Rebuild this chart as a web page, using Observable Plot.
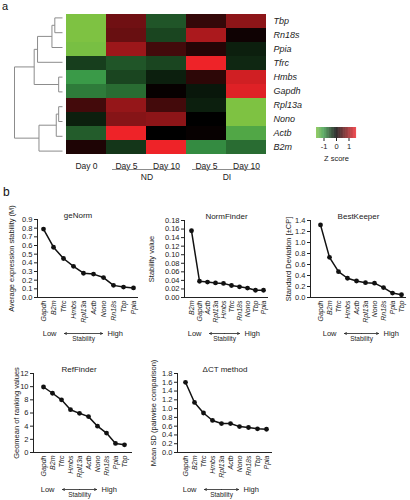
<!DOCTYPE html>
<html><head><meta charset="utf-8">
<script src="https://cdn.jsdelivr.net/npm/d3@7"></script>
<script src="https://cdn.jsdelivr.net/npm/@observablehq/plot@0.6"></script>
<style>
body{margin:0;background:#fff;}
#root{position:relative;width:410px;height:500px;overflow:hidden;font-family:"Liberation Sans",Arial,sans-serif;}
#root svg{position:absolute;overflow:visible;}
.panel{position:absolute;font-family:"Liberation Sans",Arial,sans-serif;color:#111;line-height:1;}
.ital g[aria-label="x-axis tick label"] text{font-style:italic;}
.heat g[aria-label="y-axis tick label"] text{font-style:italic;}
</style></head><body><div id="root"></div>
<script>
// ---------- Heatmap data (z scores, rows in gene order) ----------
const genes = ["Tbp","Rn18s","Ppia","Tfrc","Hmbs","Gapdh","Rpl13a","Nono","Actb","B2m"];
const conditions = ["Day 0","ND Day 5","ND Day 10","DI Day 5","DI Day 10"];
const conditionLabels = ["Day 0","Day 5","Day 10","Day 5","Day 10"];
const zDay0 = [-1.6,-1.6,-1.55,-0.4,-1.0,-0.8,0.45,-0.2,-0.6,0.2];
const zND5  = [0.75,0.7,1.05,-0.55,-0.45,-0.7,1.0,0.9,1.6,-0.35];
const zND10 = [-0.55,-0.45,0.45,-0.45,-0.2,0.05,0.45,0.95,0.0,1.6];
const zDI5  = [0.35,1.15,0.25,1.6,0.3,-0.15,-0.2,0.0,0.05,-0.9];
const zDI10 = [0.95,0.1,-0.2,-0.25,1.4,1.5,-1.6,-1.6,-1.2,-0.7];
const groups = ["ND","DI"];
const groupStart = ["ND Day 5","DI Day 5"];
const groupEnd = ["ND Day 10","DI Day 10"];
const legendTicks = [-1,0,1];

// ---------- Dendrogram merges (distance, root = 1) ----------
const mergeA = ["Tbp","n0","n1","Hmbs","n2","Rpl13a","n5","n6","n4"];
const mergeB = ["Rn18s","Ppia","Tfrc","Gapdh","n3","Nono","Actb","B2m","n7"];
const mergeHeight = [0.16,0.22,0.52,0.08,0.59,0.08,0.13,0.49,1.0];

// ---------- Panel b data ----------
const geNormGenes = ["Gapdh","B2m","Tfrc","Hmbs","Rpl13a","Actb","Nono","Rn18s","Tbp","Ppia"];
const geNormValues = [0.79,0.58,0.45,0.36,0.28,0.27,0.23,0.14,0.12,0.11];
const geNormTicks = [0,0.1,0.2,0.3,0.4,0.5,0.6,0.7,0.8,0.9];

const normFinderGenes = ["B2m","Gapdh","Actb","Rpl13a","Hmbs","Tfrc","Rn18s","Nono","Tbp","Ppia"];
const normFinderValues = [0.156,0.038,0.036,0.034,0.033,0.028,0.025,0.022,0.017,0.017];
const normFinderTicks = [0,0.02,0.04,0.06,0.08,0.10,0.12,0.14,0.16,0.18];

const bestKeeperGenes = ["Gapdh","B2m","Tfrc","Hmbs","Actb","Rpl13a","Nono","Rn18s","Ppia","Tbp"];
const bestKeeperValues = [1.32,0.73,0.47,0.35,0.30,0.27,0.26,0.18,0.08,0.05];
const bestKeeperTicks = [0,0.2,0.4,0.6,0.8,1.0,1.2,1.4];

const refFinderGenes = ["Gapdh","B2m","Tfrc","Hmbs","Rpl13a","Actb","Nono","Rn18s","Ppia","Tbp"];
const refFinderValues = [9.95,9.0,8.0,6.5,5.95,5.45,4.0,2.95,1.38,1.17];
const refFinderTicks = [0,2,4,6,8,10,12];

const deltaCtGenes = ["Gapdh","B2m","Tfrc","Hmbs","Rpl13a","Actb","Nono","Rn18s","Tbp","Ppia"];
const deltaCtValues = [1.60,1.14,0.90,0.73,0.66,0.66,0.59,0.57,0.54,0.53];
const deltaCtTicks = [0,0.2,0.4,0.6,0.8,1.0,1.2,1.4,1.6,1.8];

// ---------- build ----------
const FONT = '"Liberation Sans", Arial, sans-serif';
const root = document.getElementById("root");
function place(el, left, top, cls) {
  el.style.position = "absolute"; el.style.left = left + "px"; el.style.top = top + "px";
  if (cls) el.classList.add(cls);
  root.appendChild(el);
}
const colorScale = {type: "linear", domain: [-1.6, -1.0, 0, 1.6],
  range: ["#7ec242", "#3a9a48", "#000000", "#ee2328"], clamp: true};

const zCols = [zDay0, zND5, zND10, zDI5, zDI10];
const heatData = [];
genes.forEach((g, i) => zCols.forEach((col, j) => heatData.push({gene: g, cond: conditions[j], z: col[i]})));

// dendrogram segments derived from merges
const nodePos = new Map(genes.map((g, i) => [g, {y: i, h: 0}]));
const dendroSegs = [];
mergeA.forEach((a, k) => {
  const A = nodePos.get(a), B = nodePos.get(mergeB[k]), h = mergeHeight[k];
  dendroSegs.push({x1: A.h, y1: A.y, x2: h, y2: A.y});
  dendroSegs.push({x1: B.h, y1: B.y, x2: h, y2: B.y});
  dendroSegs.push({x1: h, y1: A.y, x2: h, y2: B.y});
  nodePos.set("n" + k, {y: (A.y + B.y) / 2, h});
});

const dendro = Plot.plot({
  width: 64, height: 192, marginLeft: 14, marginRight: 2, marginTop: 10, marginBottom: 34,
  style: {background: "transparent"},
  x: {domain: [0, 1], reverse: true, axis: null},
  y: {domain: [-0.5, genes.length - 0.5], reverse: true, axis: null},
  marks: [Plot.link(dendroSegs, {x1: "x1", y1: "y1", x2: "x2", y2: "y2", stroke: "#8c8c8c", strokeWidth: 1})]
});
place(dendro, 0, 0);

const lastGene = genes[genes.length - 1];
const heat = Plot.plot({
  width: 410, height: 192, marginLeft: 64, marginRight: 142, marginTop: 10, marginBottom: 34,
  style: {background: "transparent", fontFamily: FONT, fontSize: "8.5px", color: "#222"},
  x: {domain: conditions, padding: 0},
  y: {domain: genes, padding: 0},
  color: colorScale,
  marks: [
    Plot.cell(heatData, {x: "cond", y: "gene", fill: "z", inset: 0}),
    Plot.axisY({anchor: "right", tickSize: 0, tickPadding: 5, label: null, fontSize: 9, fontStyle: "italic"}),
    Plot.axisX({tickSize: 0, tickPadding: 4, label: null, tickFormat: d => conditionLabels[conditions.indexOf(d)]}),
    Plot.ruleY(groups, {x1: groupStart, x2: groupEnd, y: () => lastGene, dy: 22, insetLeft: 6, insetRight: 6, stroke: "#8c8c8c", strokeWidth: 1}),
    Plot.text(groups, {text: d => d, x: groupStart, y: () => lastGene, dx: 20.4, dy: 30, fontSize: 8.5})
  ]
});
place(heat, 0, 0, "heat");

const ramp = d3.range(-1.6, 1.6, 0.05);
const legend = Plot.plot({
  width: 48, height: 48, marginLeft: 4, marginRight: 4, marginTop: 7, marginBottom: 30,
  style: {background: "transparent", fontFamily: FONT, fontSize: "7.5px", color: "#222"},
  x: {domain: [-1.6, 1.6]},
  y: {domain: [0, 1], axis: null},
  color: colorScale,
  marks: [
    Plot.rect(ramp, {x1: d => d, x2: d => d + 0.055, y1: () => 0, y2: () => 1, fill: d => d + 0.025}),
    Plot.axisX({ticks: legendTicks, tickSize: 3, tickPadding: 2, tickFormat: d => String(d), label: "Z score", labelArrow: "none", labelAnchor: "center", labelOffset: 22, fontSize: 7.5})
  ]
});
place(legend, 312, 120);

function lineChart(c) {
  const data = c.genes.map((g, i) => ({gene: g, value: c.values[i]}));
  const y0 = c.ticks[0];
  const mb = 50;
  const arrows = [{from: c.genes[4], to: c.genes[2]}, {from: c.genes[4], to: c.genes[6]}];
  const svg = Plot.plot({
    width: c.width, height: c.mt + c.fh + mb,
    marginLeft: c.ml, marginRight: c.mr, marginTop: c.mt, marginBottom: mb,
    style: {background: "transparent", fontFamily: FONT, fontSize: "7px", color: "#222"},
    x: {type: "point", domain: c.genes, insetLeft: c.il, insetRight: c.ir, padding: 0},
    y: {domain: [c.ticks[0], c.ticks[c.ticks.length - 1]]},
    marks: [
      Plot.frame({anchor: "left"}),
      Plot.ruleY([y0]),
      Plot.axisY({ticks: c.ticks, tickFormat: c.fmt, tickSize: 3, tickPadding: 2, label: c.ylabel, labelArrow: "none", labelAnchor: "center", labelOffset: c.lo, fontSize: 7.5}),
      Plot.axisX({tickRotate: -90, tickSize: 0, tickPadding: 3, label: null, fontSize: 7, fontStyle: "italic"}),
      Plot.line(data, {x: "gene", y: "value", strokeWidth: 1.5, stroke: "#111"}),
      Plot.dot(data, {x: "gene", y: "value", r: 2.4, fill: "#111"}),
      Plot.text([c.title], {text: d => d, frameAnchor: "top", dy: -7, dx: c.tdx, fontSize: 8}),
      Plot.arrow(arrows, {x1: "from", x2: "to", y1: () => y0, y2: () => y0, dy: c.ady, dx: c.adx, headLength: 4, headAngle: 50, insetEnd: 1, strokeWidth: 0.8, stroke: "#222"}),
      Plot.text(["Low"], {text: d => d, x: () => c.genes[2], y: () => y0, dy: c.ady, dx: c.adx - 7, textAnchor: "end", fontSize: 7.5}),
      Plot.text(["High"], {text: d => d, x: () => c.genes[6], y: () => y0, dy: c.ady, dx: c.adx + 4, textAnchor: "start", fontSize: 7.5}),
      Plot.text(["Stability"], {text: d => d, x: () => c.genes[4], y: () => y0, dy: c.ady + 5.5, dx: c.adx, fontSize: 6.5})
    ]
  });
  place(svg, c.left, c.top, "ital");
}

lineChart({genes: geNormGenes, values: geNormValues, ticks: geNormTicks, fmt: d3.format(".1f"),
  title: "geNorm", ylabel: "Average expression stability (M)",
  left: 0, top: 200, width: 140, ml: 37, mr: 2, mt: 19, fh: 78, il: 3, ir: 3, lo: 29, tdx: -10, ady: 36, adx: 0});
lineChart({genes: normFinderGenes, values: normFinderValues, ticks: normFinderTicks, fmt: d3.format(".2f"),
  title: "NormFinder", ylabel: "Stability value",
  left: 140, top: 201, width: 130, ml: 44, mr: 2, mt: 19, fh: 77, il: 3, ir: 2, lo: 36, tdx: 0, ady: 36, adx: 1});
lineChart({genes: bestKeeperGenes, values: bestKeeperValues, ticks: bestKeeperTicks, fmt: d3.format(".1f"),
  title: "BestKeeper", ylabel: "Standard Deviation [\u00b1CP]",
  left: 275, top: 201, width: 133, ml: 35, mr: 2, mt: 19, fh: 77, il: 6, ir: 2, lo: 25, tdx: 0, ady: 36, adx: 5});
lineChart({genes: refFinderGenes, values: refFinderValues, ticks: refFinderTicks, fmt: d3.format("d"),
  title: "RefFinder", ylabel: "Geomean of ranking values",
  left: 0, top: 354, width: 134, ml: 33, mr: 2, mt: 19, fh: 79, il: 6, ir: 4, lo: 20, tdx: -4, ady: 37, adx: 0});
lineChart({genes: deltaCtGenes, values: deltaCtValues, ticks: deltaCtTicks, fmt: d3.format(".1f"),
  title: "\u0394CT method", ylabel: "Mean SD (pairwise comparison)",
  left: 140, top: 354, width: 134, ml: 37, mr: 2, mt: 19, fh: 79, il: 4, ir: 3, lo: 27, tdx: 0, ady: 37, adx: 0});

// panel letters
[["a", 2, 1, 11], ["b", 3, 186, 12]].forEach(([t, x, y, s]) => {
  const d = document.createElement("div");
  d.className = "panel"; d.textContent = t;
  d.style.left = x + "px"; d.style.top = y + "px"; d.style.fontSize = s + "px";
  root.appendChild(d);
});
</script></body></html>
